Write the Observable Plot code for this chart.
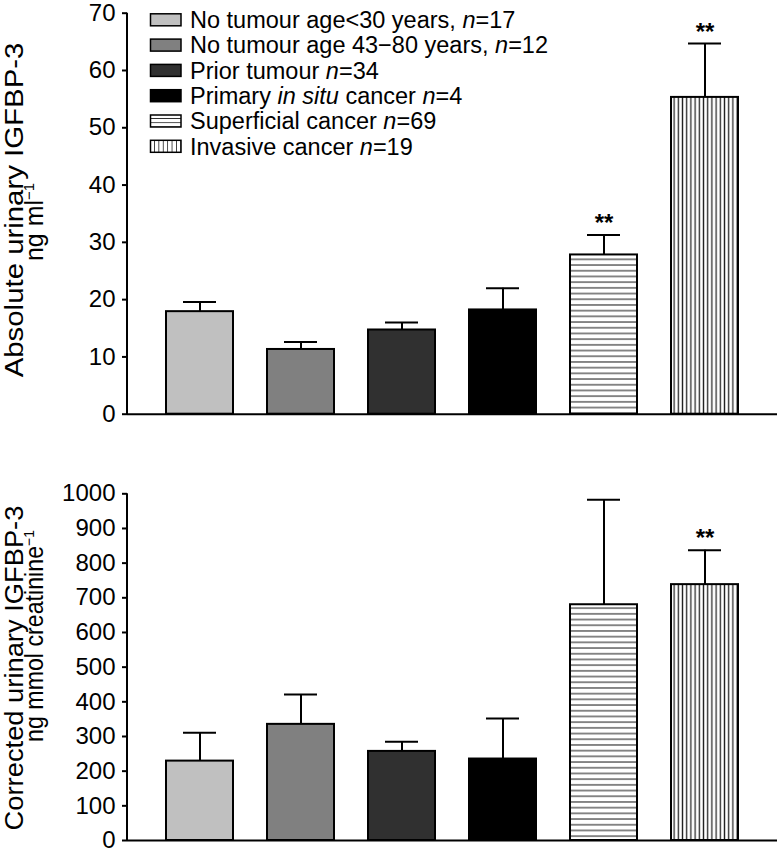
<!DOCTYPE html>
<html><head><meta charset="utf-8">
<script src="https://cdn.jsdelivr.net/npm/d3@7"></script>
<script src="https://cdn.jsdelivr.net/npm/@observablehq/plot@0.6"></script>
<style>
body{margin:0;background:#fff;font-family:"Liberation Sans",Arial,sans-serif}
#wrap{position:relative;width:779px;height:852px;overflow:hidden}
#wrap svg{display:block}
</style></head><body>
<svg width="0" height="0" style="position:absolute">
<defs>
<pattern id="hstripe" patternUnits="userSpaceOnUse" width="8" height="5.7"><rect width="8" height="5.7" fill="#fff"/><line x1="0" x2="8" y1="2.85" y2="2.85" stroke="#3a3a3a" stroke-width="1.2"/></pattern>
<pattern id="vstripe" patternUnits="userSpaceOnUse" width="4.2" height="8"><rect width="4.2" height="8" fill="#fff"/><line x1="2.1" x2="2.1" y1="0" y2="8" stroke="#222" stroke-width="1.3"/></pattern>
<pattern id="hstripeS" patternUnits="userSpaceOnUse" width="8" height="4.2" y="0.5"><rect width="8" height="4.2" fill="#fff"/><line x1="0" x2="8" y1="0" y2="0" stroke="#000" stroke-width="1.4"/></pattern>
<pattern id="vstripeS" patternUnits="userSpaceOnUse" width="4.4" height="8"><rect width="4.4" height="8" fill="#fff"/><line x1="0" x2="0" y1="0" y2="8" stroke="#000" stroke-width="1.4"/></pattern>
</defs></svg>
<div id="wrap"></div>
<script>
// ---- data ----
const groups = ["No tumour age<30 years,", "No tumour age 43\u221280 years,", "Prior tumour", "Primary in situ cancer", "Superficial cancer", "Invasive cancer"];
const groupN = [17, 12, 34, 4, 69, 19];
const absMean  = [17.9, 11.3, 14.7, 18.2, 27.8, 55.3];
const absUpper = [19.6, 12.6, 16.0, 22.0, 31.3, 64.7];
const absSig   = ["", "", "", "", "**", "**"];
const corrMean  = [229, 335, 257, 235, 680, 738];
const corrUpper = [311, 421, 285, 352, 983, 837];
const corrSig   = ["", "", "", "", "", "**"];
const absTicks  = [0, 10, 20, 30, 40, 50, 60, 70];
const corrTicks = [0, 100, 200, 300, 400, 500, 600, 700, 800, 900, 1000];

// ---- styles ----
const fills = ["#c0c0c0", "#808080", "#303030", "#000000", "url(#hstripe)", "url(#vstripe)"];
const swatchFills = ["#c0c0c0", "#808080", "#303030", "#000000", "url(#hstripeS)", "url(#vstripeS)"];
const FONT = "Liberation Sans, Arial, Helvetica, sans-serif";

function panel(mean, upper, sig, ticks, height, mt, mb) {
  const data = groups.map((g, i) => ({g, mean: mean[i], upper: upper[i], sig: sig[i]}));
  return Plot.plot({
    width: 779, height,
    marginLeft: 127, marginRight: 2, marginTop: mt, marginBottom: mb,
    style: {fontFamily: FONT, fontSize: "24px", color: "#000", background: "#fff", overflow: "visible"},
    x: {domain: groups, paddingInner: 0.333, paddingOuter: 0.353, axis: null},
    y: {domain: [ticks[0], ticks[ticks.length - 1]], axis: null},
    color: {domain: groups, range: fills},
    marks: [
      Plot.axisY({ticks, tickFormat: d => String(d), tickSize: 5, tickPadding: 7, label: null, fontSize: 24, strokeWidth: 2}),
      Plot.ruleX(data, {x: "g", y1: "mean", y2: "upper", stroke: "#000", strokeWidth: 2}),
      Plot.tickY(data, {x: "g", y: "upper", insetLeft: 17, insetRight: 17, stroke: "#000", strokeWidth: 2}),
      Plot.barY(data, {x: "g", y: "mean", fill: "g", stroke: "#000", strokeWidth: 2}),
      Plot.text(data.filter(d => d.sig), {x: "g", y: "upper", text: "sig", lineAnchor: "bottom", dy: -4, fontSize: 24, fontWeight: "bold", fill: "#000"}),
      Plot.ruleY([0], {stroke: "#000", strokeWidth: 2})
    ]
  });
}

function addAxisLine(svg) {
  const [ya, yb] = svg.scale("y").range;
  const x0 = svg.scale("x").range[0];
  d3.select(svg).append("line")
    .attr("x1", x0).attr("x2", x0).attr("y1", ya + 1).attr("y2", yb)
    .attr("stroke", "#000").attr("stroke-width", 2);
}

function addYLabel(svg, lines) {
  const g = d3.select(svg).append("g").attr("font-family", FONT).attr("fill", "#000");
  for (const L of lines) {
    const t = g.append("text")
      .attr("text-anchor", "middle")
      .style("font-size", L.size + "px")
      .attr("transform", `translate(${L.x},${L.y}) rotate(-90)`);
    t.append("tspan").text(L.text);
    if (L.sup) t.append("tspan").style("font-size", "15px").attr("dy", -9).text(L.sup);
    if (L.len) {
      const natural = t.node().getComputedTextLength();
      const s = L.len / natural;
      t.attr("transform", `translate(${L.x},${L.y}) rotate(-90) scale(${s},1)`);
    }
  }
}

const wrap = document.getElementById("wrap");
const topSvg = panel(absMean, absUpper, absSig, absTicks, 440, 12.7, 26.3);
wrap.append(topSvg);
const botSvg = panel(corrMean, corrUpper, corrSig, corrTicks, 412, 53.3, 12);
wrap.append(botSvg);
addAxisLine(topSvg);
addAxisLine(botSvg);

addYLabel(topSvg, [
  {text: "Absolute urinary IGFBP-3", x: 23, y: 210, size: 25, len: 335},
  {text: "ng ml", sup: "\u22121", x: 43, y: 222, size: 25, len: 78}
]);
addYLabel(botSvg, [
  {text: "Corrected urinary IGFBP-3", x: 23, y: 668 - 440, size: 25, len: 325},
  {text: "ng mmol creatinine", sup: "\u22121", x: 43, y: 636 - 440, size: 25, len: 212}
]);

// legend
const lg = d3.select(topSvg).append("g").attr("font-family", FONT).style("font-size", "23.5px")
  .attr("fill", "#000").attr("text-anchor", "start");
groups.forEach((name, i) => {
  const cy = 19.8 + i * 25.3;
  lg.append("rect").attr("x", 150.5).attr("y", cy - 6).attr("width", 30.5).attr("height", 12)
    .attr("fill", swatchFills[i]).attr("stroke", "#000").attr("stroke-width", 1.5);
  const t = lg.append("text").attr("x", 190).attr("y", cy + 8.3).attr("text-anchor", "start");
  const parts = name.split("in situ");
  t.append("tspan").text(parts[0]);
  if (parts.length > 1) {
    t.append("tspan").attr("font-style", "italic").text("in situ");
    t.append("tspan").text(parts[1]);
  }
  t.append("tspan").text(" ");
  t.append("tspan").attr("font-style", "italic").text("n");
  t.append("tspan").text("=" + groupN[i]);
});
</script>
</body></html>
